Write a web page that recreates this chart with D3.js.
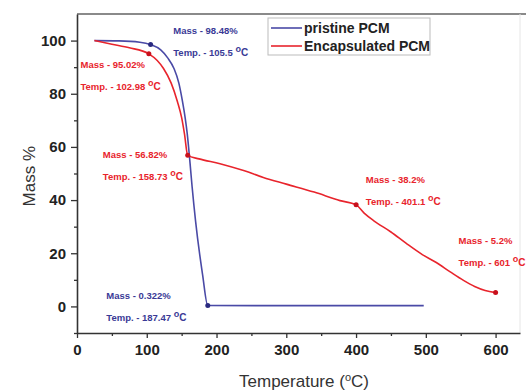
<!DOCTYPE html>
<html>
<head>
<meta charset="utf-8">
<script src="https://cdn.jsdelivr.net/npm/d3@7"></script>
<style>
  body { margin: 0; background: #fff; }
  text { font-family: Arial, "Liberation Sans", sans-serif; }
</style>
</head>
<body>
<div id="my_dataviz"></div>
<script>
var width = 526;
var height = 391;
var margin = {top: 14, right: 6, bottom: 58, left: 77};

// pristine PCM (temperature, mass %)
var pristineTemp = [25, 60, 90, 105.5, 120, 130, 139, 146, 151, 155, 158, 162, 165, 170, 180, 187.47, 300, 497];
var pristineMass = [100, 99.9, 99.4, 98.48, 96.5, 93.5, 89.5, 84, 77.4, 71, 65, 54, 45, 32, 12, 0.322, 0.3, 0.3];

// encapsulated PCM
var encapTemp = [25, 50, 75, 102.98, 115, 124, 135, 144, 150, 154, 158.73, 175, 205, 240, 267, 300, 340, 377, 400.1, 412, 425, 450, 472, 495, 515, 535, 554, 570, 585, 600];
var encapMass = [100, 98.6, 97.3, 95.02, 92.5, 89.5, 84, 77, 71, 65, 56.82, 55.5, 53.7, 51, 48.5, 46, 43, 39.8, 38.2, 35, 32.3, 28, 23.7, 19.5, 16.5, 13, 9.8, 7.5, 6, 5.2];

var xTicks = [0, 100, 200, 300, 400, 500, 600];
var yTicks = [0, 20, 40, 60, 80, 100];

// marked points and their notes
var pristineMarks = [[105.5, 98.48], [187.47, 0.322]];
var encapMarks = [[102.98, 95.02], [158.73, 56.82], [400.1, 38.2], [600, 5.2]];
var notes = [
  {mass: "Mass - 98.48%", temp: "Temp. - 105.5 ", at: [138, 102.5], s: "p"},
  {mass: "Mass - 0.322%", temp: "Temp. - 187.47 ", at: [42, 2.8], s: "p"},
  {mass: "Mass - 95.02%", temp: "Temp. - 102.98 ", at: [5, 89.5], s: "e"},
  {mass: "Mass - 56.82%", temp: "Temp. - 158.73 ", at: [37, 56], s: "e"},
  {mass: "Mass - 38.2%", temp: "Temp. - 401.1 ", at: [414, 46.5], s: "e"},
  {mass: "Mass - 5.2%", temp: "Temp. - 601 ", at: [547, 23.5], s: "e"}
];

var blue = "#4a4aa6", red = "#e8242c";
var noteBlue = "#3a3a96", noteRed = "#e8242c";

var svg = d3.select("#my_dataviz")
  .append("svg")
    .attr("width", width)
    .attr("height", height)
    .style("background", "#fff");

var x = d3.scaleLinear().domain([0, 635]).range([margin.left, width - margin.right]);
var y = d3.scaleLinear().domain([-10, 110]).range([height - margin.bottom, margin.top]);

// frame: top and right
svg.append("line")
  .attr("x1", margin.left).attr("x2", width)
  .attr("y1", margin.top).attr("y2", margin.top)
  .style("stroke", "#8a8a8a").style("stroke-width", 2);
svg.append("line")
  .attr("x1", x(635)).attr("x2", x(635))
  .attr("y1", margin.top).attr("y2", y(-10))
  .style("stroke", "#e6e6e6").style("stroke-width", 1);

// axes
svg.append("g")
  .attr("transform", "translate(0," + y(-10) + ")")
  .call(d3.axisBottom(x).tickValues(xTicks).tickSize(5).tickSizeOuter(0).tickPadding(6));
svg.append("g")
  .attr("transform", "translate(0," + y(-10) + ")")
  .call(d3.axisBottom(x).tickValues([50, 150, 250, 350, 450, 550]).tickSize(3).tickFormat(""))
  .select(".domain").remove();

svg.append("g")
  .attr("transform", "translate(" + margin.left + ",0)")
  .call(d3.axisLeft(y).tickValues(yTicks).tickSize(6).tickSizeOuter(0).tickPadding(5));
svg.append("g")
  .attr("transform", "translate(" + margin.left + ",0)")
  .call(d3.axisLeft(y).tickValues([-10, 10, 30, 50, 70, 90]).tickSize(3).tickFormat(""))
  .select(".domain").remove();

svg.selectAll(".domain").style("stroke", "#333").style("stroke-width", 1.6);
svg.selectAll(".tick line").style("stroke", "#333").style("stroke-width", 1.3);
svg.selectAll(".tick text")
  .style("font-size", "15px")
  .style("font-weight", "bold")
  .style("fill", "#222");

// axis titles
svg.append("text")
  .attr("text-anchor", "middle")
  .attr("transform", "translate(35," + y(49) + ") rotate(-90)")
  .style("font-size", "17px")
  .style("fill", "#333")
  .text("Mass %");

var xt = svg.append("text")
  .attr("text-anchor", "middle")
  .attr("x", 304)
  .attr("y", 387)
  .style("font-size", "17px")
  .style("fill", "#333");
xt.append("tspan").text("Temperature (");
xt.append("tspan").attr("dy", -6).style("font-size", "11px").text("o");
xt.append("tspan").attr("dy", 6).text("C)");

// curves
var line = d3.line()
  .x(function(d) { return x(d[0]); })
  .y(function(d) { return y(d[1]); })
  .curve(d3.curveMonotoneX);

svg.append("path")
  .datum(d3.zip(pristineTemp, pristineMass))
  .attr("d", line)
  .style("fill", "none")
  .style("stroke", blue)
  .style("stroke-width", 1.6);

svg.append("path")
  .datum(d3.zip(encapTemp, encapMass))
  .attr("d", line)
  .style("fill", "none")
  .style("stroke", red)
  .style("stroke-width", 1.6);

svg.selectAll("pmark")
  .data(pristineMarks)
  .enter()
  .append("circle")
    .attr("cx", function(d) { return x(d[0]); })
    .attr("cy", function(d) { return y(d[1]); })
    .attr("r", 2.5)
    .style("fill", "#2a2a80");

svg.selectAll("emark")
  .data(encapMarks)
  .enter()
  .append("circle")
    .attr("cx", function(d) { return x(d[0]); })
    .attr("cy", function(d) { return y(d[1]); })
    .attr("r", 2.5)
    .style("fill", "#c8101c");

// notes
notes.forEach(function(n) {
  var c = n.s == "p" ? noteBlue : noteRed;
  var px = x(n.at[0]), py = y(n.at[1]);
  svg.append("text")
    .attr("x", px).attr("y", py)
    .style("font-size", "9.5px").style("font-weight", "bold")
    .style("fill", c)
    .text(n.mass);
  var t = svg.append("text")
    .attr("x", px).attr("y", py + 22)
    .style("font-size", "9.5px").style("font-weight", "bold")
    .style("fill", c);
  t.append("tspan").text(n.temp);
  t.append("tspan").attr("dy", -4).style("font-size", "9px").text("o");
  t.append("tspan").attr("dy", 4).style("font-size", "10px").text("C");
});

// legend
svg.append("rect")
  .attr("x", 268).attr("y", 18)
  .attr("width", 162).attr("height", 37)
  .style("fill", "#fff")
  .style("stroke", "#bbb")
  .style("stroke-width", 1);

var legend = [["pristine PCM", blue], ["Encapsulated PCM", red]];
svg.selectAll("mylines")
  .data(legend)
  .enter()
  .append("line")
    .attr("x1", 271).attr("x2", 302)
    .attr("y1", function(d, i) { return 28 + i * 18; })
    .attr("y2", function(d, i) { return 28 + i * 18; })
    .style("stroke", function(d) { return d[1]; })
    .style("stroke-width", 1.6);

svg.selectAll("mylabels")
  .data(legend)
  .enter()
  .append("text")
    .attr("x", 304)
    .attr("y", function(d, i) { return 33 + i * 18; })
    .style("font-size", "14px")
    .style("font-weight", "bold")
    .style("fill", "#222")
    .text(function(d) { return d[0]; });
</script>
</body>
</html>
